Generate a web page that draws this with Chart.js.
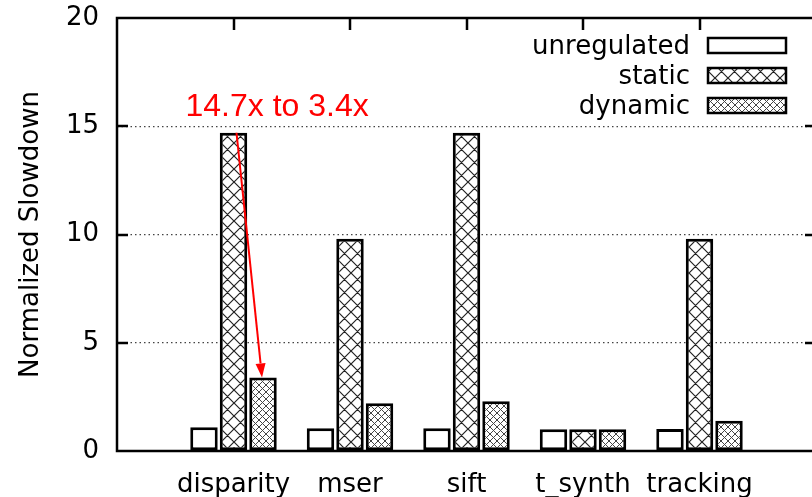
<!DOCTYPE html>
<html>
<head>
<meta charset="utf-8">
<script src="https://cdn.jsdelivr.net/npm/chart.js@4/dist/chart.umd.min.js"></script>
<style>
html,body{margin:0;padding:0;overflow:hidden;background:#fff;width:812px;height:497px;}
canvas{display:block;}
</style>
</head>
<body>
<canvas id="c" width="822" height="497" style="width:822px;height:497px"></canvas>
<script>
// ---- data ----
const categories = ['disparity', 'mser', 'sift', 't_synth', 'tracking'];
const unregulated = [1.1, 1.05, 1.05, 1.0, 1.02];
const staticVals = [14.7, 9.8, 14.7, 1.0, 9.8];
const dynamicVals = [3.4, 2.2, 2.3, 1.0, 1.4];
const yTicks = [0, 5, 10, 15, 20];
const annotationText = '14.7x to 3.4x';

// padded category axis (empty slot on each side)
const xLabels = ['', ...categories, ''];
const pad = arr => [null, ...arr, null];

function makePattern(size, color, lw) {
  const c = document.createElement('canvas');
  c.width = c.height = size;
  const g = c.getContext('2d');
  g.fillStyle = '#fff';
  g.fillRect(0, 0, size, size);
  g.strokeStyle = color;
  g.lineWidth = lw;
  g.beginPath();
  for (const o of [-size, 0, size]) {
    g.moveTo(o - 1, -1); g.lineTo(o + size + 1, size + 1);
    g.moveTo(o + size + 1, -1); g.lineTo(o - 1, size + 1);
  }
  g.stroke();
  const ctx = document.getElementById('c').getContext('2d');
  return ctx.createPattern(c, 'repeat');
}
const patStatic = makePattern(13, '#222', 1.2);
const patDynamic = makePattern(7, '#444', 1);

const FONT = "'DejaVu Sans', sans-serif";

const framePlugin = {
  id: 'frame',
  beforeDatasetsDraw(chart) {
    const {ctx, chartArea: a, scales: {x}} = chart;
    ctx.save();
    ctx.strokeStyle = '#000';
    ctx.lineWidth = 2;
    ctx.beginPath();
    for (let i = 1; i <= categories.length; i++) {
      const px = Math.round(x.getPixelForValue(i));
      ctx.moveTo(px, a.bottom); ctx.lineTo(px, a.bottom - 12);
    }
    ctx.stroke();
    ctx.restore();
  },
  afterDatasetsDraw(chart) {
    const {ctx, chartArea: a, scales: {x, y}} = chart;
    ctx.save();
    ctx.strokeStyle = '#000';
    ctx.lineWidth = 2.5;
    ctx.beginPath();
    ctx.rect(a.left, a.top, a.right - a.left, a.bottom - a.top);
    for (const t of yTicks) {
      const py = Math.round(y.getPixelForValue(t));
      ctx.moveTo(a.left, py); ctx.lineTo(a.left + 11, py);
      ctx.moveTo(a.right, py); ctx.lineTo(a.right - 11, py);
    }
    for (let i = 1; i <= categories.length; i++) {
      const px = Math.round(x.getPixelForValue(i));
      ctx.moveTo(px, a.top); ctx.lineTo(px, a.top + 12);
    }
    ctx.stroke();

    // annotation arrow from static top to dynamic top (disparity)
    const sEl = chart.getDatasetMeta(1).data[1];
    const dEl = chart.getDatasetMeta(2).data[1];
    const x1 = sEl.x + 3, y1 = sEl.y;
    const x2 = dEl.x - 1, y2 = dEl.y;
    const ang = Math.atan2(y2 - y1, x2 - x1);
    const hl = 14, hw = 5;
    const bx = x2 - hl * Math.cos(ang), by = y2 - hl * Math.sin(ang);
    ctx.strokeStyle = '#ff0000';
    ctx.fillStyle = '#ff0000';
    ctx.lineWidth = 2;
    ctx.beginPath();
    ctx.moveTo(x1, y1); ctx.lineTo(bx, by);
    ctx.stroke();
    ctx.beginPath();
    ctx.moveTo(x2, y2);
    ctx.lineTo(bx + hw * Math.sin(ang), by - hw * Math.cos(ang));
    ctx.lineTo(bx - hw * Math.sin(ang), by + hw * Math.cos(ang));
    ctx.closePath();
    ctx.fill();

    ctx.font = "32px 'Liberation Sans', Arial, sans-serif";
    ctx.textAlign = 'left';
    ctx.textBaseline = 'alphabetic';
    ctx.fillText(annotationText, sEl.x - 48, y.getPixelForValue(15) - 10);

    // legend
    ctx.font = '26px ' + FONT;
    ctx.textAlign = 'right';
    ctx.textBaseline = 'middle';
    chart.data.datasets.forEach((ds, i) => {
      const cy = 46 + i * 30;
      ctx.fillStyle = '#000';
      ctx.fillText(ds.label, 690, cy + 1);
      ctx.fillStyle = ds.backgroundColor;
      ctx.fillRect(708, cy - 8, 78, 15);
      ctx.strokeStyle = '#000';
      ctx.lineWidth = 2.5;
      ctx.strokeRect(708, cy - 8, 78, 15);
    });
    ctx.restore();
  }
};

const common = {borderColor: '#000', borderWidth: 3, borderSkipped: false, categoryPercentage: 0.76, barPercentage: 0.93};

new Chart(document.getElementById('c'), {
  type: 'bar',
  data: {
    labels: xLabels,
    datasets: [
      {label: 'unregulated', data: pad(unregulated), backgroundColor: '#ffffff', ...common},
      {label: 'static', data: pad(staticVals), backgroundColor: patStatic, ...common},
      {label: 'dynamic', data: pad(dynamicVals), backgroundColor: patDynamic, ...common}
    ]
  },
  options: {
    responsive: false,
    animation: false,
    events: [],
    layout: {padding: {top: 18, right: 6, left: 0, bottom: 0}},
    plugins: {legend: {display: false}, tooltip: {enabled: false}},
    scales: {
      x: {
        offset: false,
        grid: {display: false, drawTicks: false},
        border: {display: false},
        ticks: {font: {family: FONT, size: 26}, color: '#000', padding: 19, maxRotation: 0, autoSkip: false},
        afterFit(s) { s.height = 46; s.paddingLeft = 0; s.paddingRight = 0; }
      },
      y: {
        min: 0, max: 20,
        afterBuildTicks(s) { s.ticks = yTicks.map(v => ({value: v})); },
        grid: {
          drawTicks: false,
          color: c => (c.tick && (c.tick.value === 0 || c.tick.value === 20)) ? 'rgba(0,0,0,0)' : '#444',
          lineWidth: 1.3
        },
        border: {display: false, dash: [1.5, 3]},
        ticks: {font: {family: FONT, size: 26}, color: '#000', padding: 18},
        title: {display: true, text: 'Normalized Slowdown', font: {family: FONT, size: 26}, color: '#000', padding: {top: 16, bottom: 0}},
        afterFit(s) { s.width = 117; s.paddingTop = 0; s.paddingBottom = 0; }
      }
    }
  },
  plugins: [framePlugin]
});
</script>
</body>
</html>
